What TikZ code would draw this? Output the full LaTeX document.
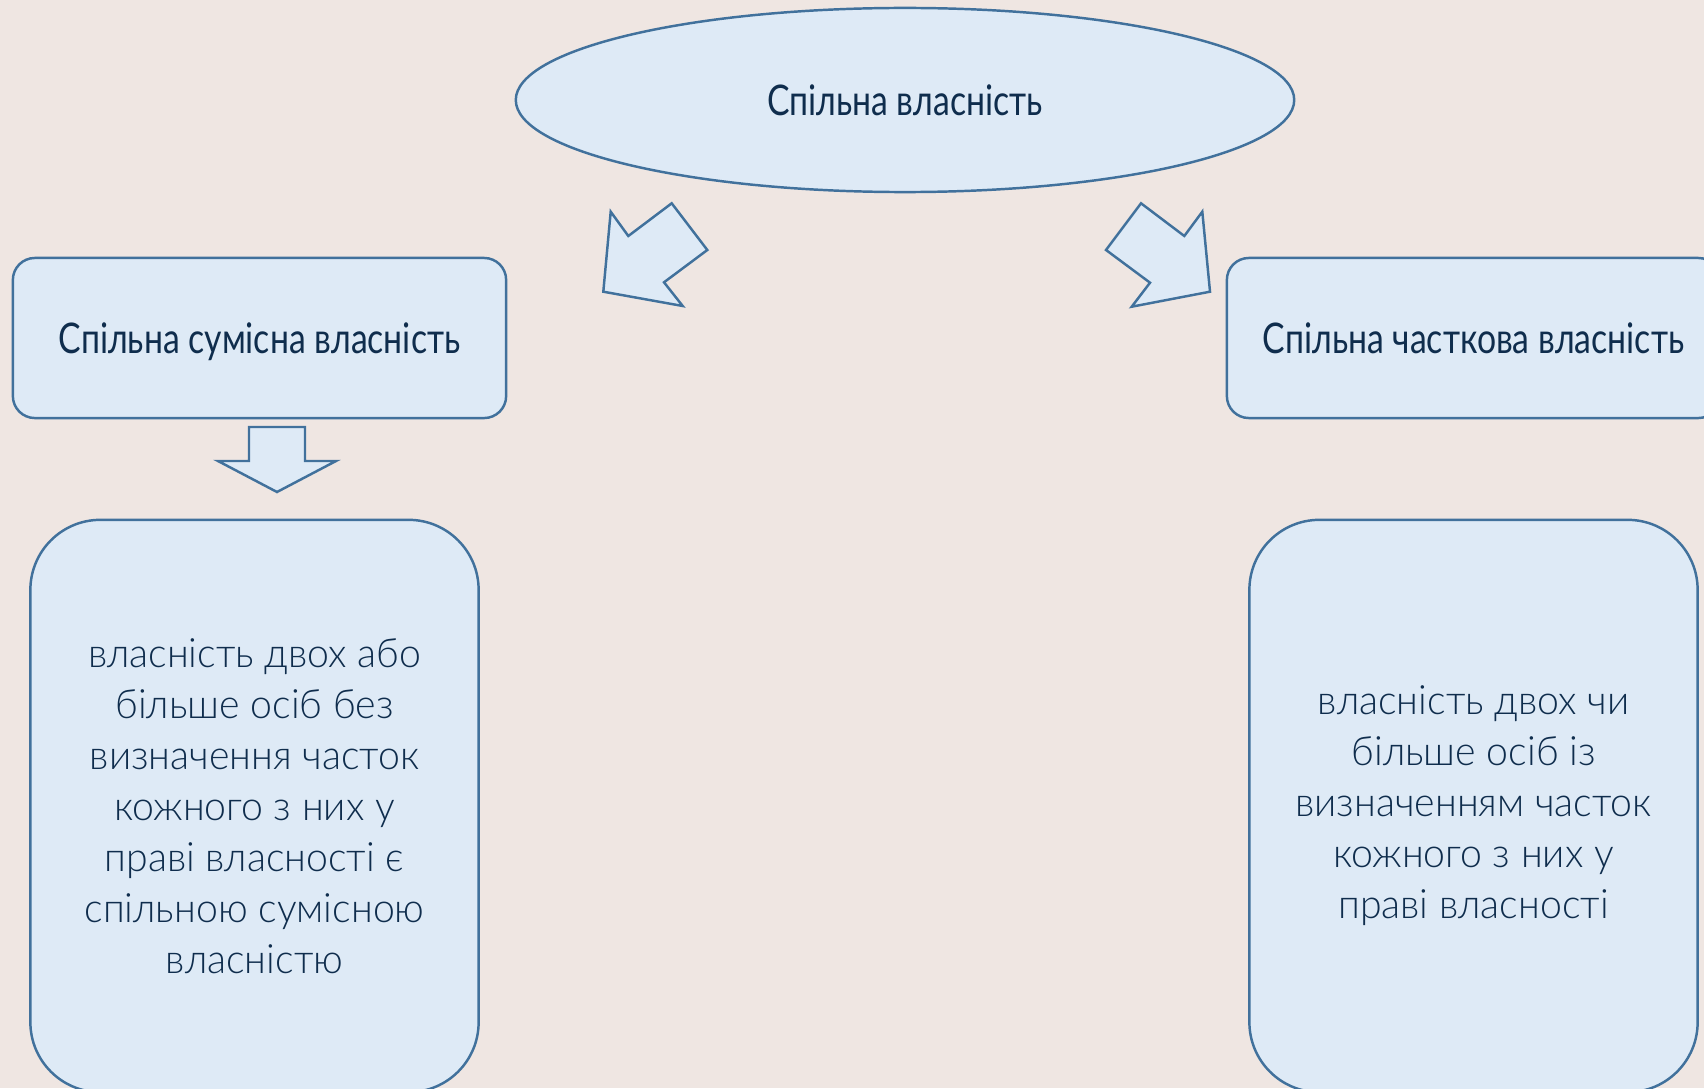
\documentclass[tikz,border=0pt]{standalone}
\usepackage{fontspec}
\newfontfamily\headfont{Lato}[FakeStretch=0.8]
\newfontfamily\bodyfont{Lato Light}[FakeStretch=0.97]
\usetikzlibrary{shapes.geometric}

\definecolor{paper}{RGB}{239,230,226}
\definecolor{boxfill}{RGB}{222,234,246}
\definecolor{boxline}{RGB}{65,113,156}
\definecolor{ink}{RGB}{15,45,77}

\tikzset{
  shape base/.style={draw=boxline, fill=boxfill, line width=0.7pt, text=ink},
  headbox/.style={shape base, rounded corners=0.22cm, minimum width=4.93cm,
    minimum height=1.6cm, text height=8.6pt, text depth=0pt,
    font=\headfont\fontsize{12}{14}\selectfont},
  defbox/.style={shape base, rounded corners=0.7cm, minimum width=4.48cm,
    minimum height=5.72cm, align=center,
    font=\bodyfont\fontsize{11.5}{14.5}\selectfont},
  blockarrow/.style={shape base, line join=miter}
}

\begin{document}
\begin{tikzpicture}[x=0.01cm, y=-0.01cm]
  % Page
  \useasboundingbox (0,0) rectangle (1704,1088);
  \clip (0,0) rectangle (1704,1088);
  \fill[paper] (0,0) rectangle (1704,1088);

  % Top oval
  \node[shape base, ellipse, inner sep=0pt, minimum width=7.78cm, minimum height=1.84cm,
    text height=8.6pt, text depth=0pt,
    font=\headfont\fontsize{12}{14}\selectfont] (whole) at (905,100) {Спільна власність};

  % Two kinds of ownership
  \node[headbox] (joint) at (259.5,338) {Спільна сумісна власність};
  \node[headbox] (shared) at (1473.5,338) {Спільна часткова власність};

  % Definitions
  \node[defbox] (jointdef) at (254.5,806) {власність двох або\\більше осіб без\\визначення часток\\кожного з них у\\праві власності є\\спільною сумісною\\власністю};
  \node[defbox] (shareddef) at (1473.5,806) {власність двох чи\\більше осіб із\\визначенням часток\\кожного з них у\\праві власності};

  % Block arrows
  \draw[blockarrow] (610.7,211.7) -- (628.3,236) -- (671.7,203.3) -- (707.3,250)
    -- (664,282.3) -- (682.7,306) -- (603.3,291.7) -- cycle;
  \draw[blockarrow] (1202.3,211.7) -- (1184.3,236) -- (1141,203.3) -- (1106,250)
    -- (1150,282.7) -- (1131.7,306.7) -- (1210,291.7) -- cycle;
  \draw[blockarrow] (249,427) -- (305,427) -- (305,461) -- (336,461)
    -- (277,492) -- (218,461) -- (249,461) -- cycle;
\end{tikzpicture}
\end{document}
